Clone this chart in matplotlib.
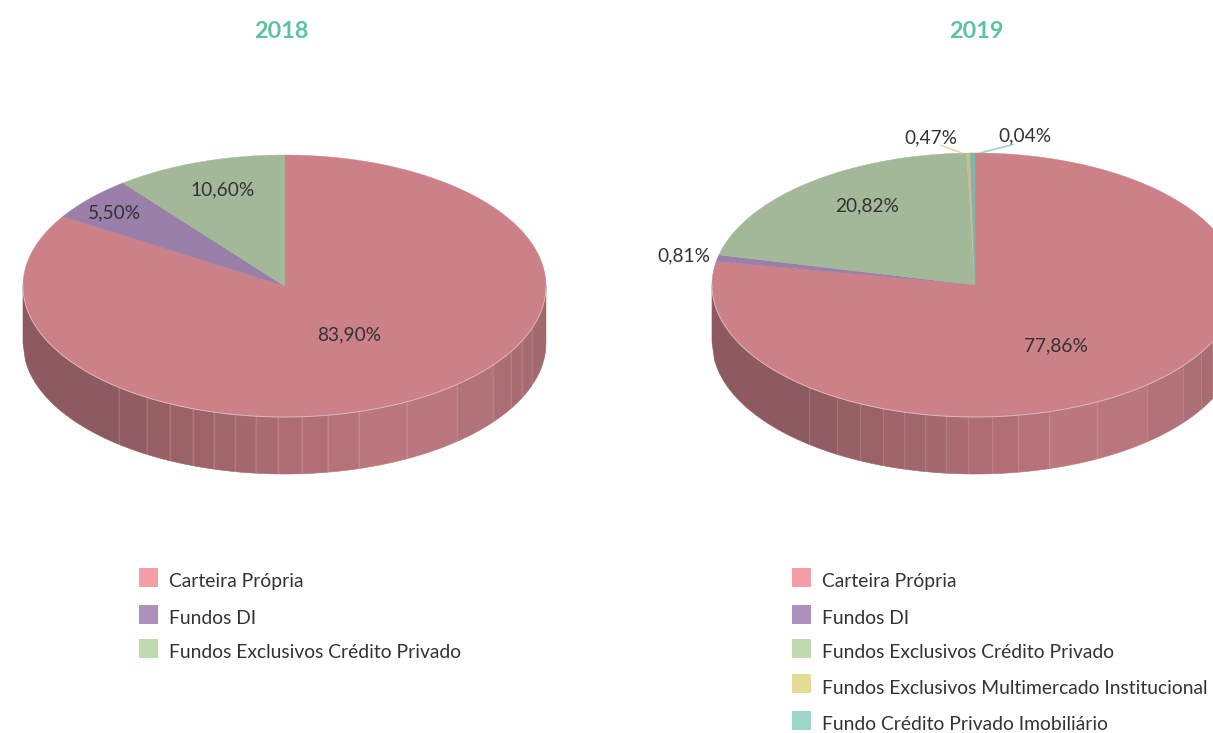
import numpy as np
import matplotlib
matplotlib.use("Agg")
import matplotlib.pyplot as plt
from matplotlib.patches import Rectangle
from matplotlib.colors import to_rgb

plt.rcParams['font.family'] = ['Lato', 'DejaVu Sans']

# ---- data ----
years = ["2018", "2019"]
names = ["Carteira Própria", "Fundos DI", "Fundos Exclusivos Crédito Privado",
         "Fundos Exclusivos Multimercado Institucional", "Fundo Crédito Privado Imobiliário"]
values_2018 = [83.90, 5.50, 10.60]
values_2019 = [77.86, 0.81, 20.82, 0.47, 0.04]

# ---- style ----
W, H = 1213, 733
top_cols = ["#cc8188", "#9a80a8", "#a3b898", "#c6bc8c", "#7fb3ae"]
leg_cols = ["#f49ea6", "#ae90bc", "#c0dab0", "#e5dc98", "#9fd6cc"]
title_col = "#5cc2a4"
text_col = "#333333"
facet_dx = [-166, -138, -115, -92, -71, -50, -29, -7, 17, 43, 74, 122, 172, 208, 226, 237, 247]
shade_x = [-1.0, -0.63, 0.0, 0.45, 0.70, 1.0]
shade_c = ["#8b595e", "#8f5c61", "#ac6c72", "#bf787f", "#b4737a", "#a0686d"]
min_sweep = 1.0  # degrees: very thin slices are drawn at least this wide

fig = plt.figure(figsize=(W / 100, H / 100), dpi=100)
ax = fig.add_axes([0, 0, 1, 1])
ax.set_xlim(0, W)
ax.set_ylim(H, 0)
ax.axis("off")


def shade(u):
    rgb = np.array([to_rgb(c) for c in shade_c])
    return tuple(np.interp(u, shade_x, rgb[:, i]) for i in range(3))


def draw_pie(values, cx, cy, rx, ry, depth):
    # side wall (front half only), split in facets
    edges = [-rx] + facet_dx + [rx]
    for a, b in zip(edges[:-1], edges[1:]):
        xs = np.linspace(a, b, 40)
        yb = ry * np.sqrt(np.clip(1 - (xs / rx) ** 2, 0, 1))
        ax.fill(np.r_[cx + xs, (cx + xs)[::-1]], np.r_[cy + yb, (cy + yb + depth)[::-1]],
                color=shade((a + b) / 2 / rx), lw=0.4, zorder=1)
    for dx in facet_dx:
        yb = ry * np.sqrt(1 - (dx / rx) ** 2)
        ax.plot([cx + dx] * 2, [cy + yb, cy + yb + depth], color="white", alpha=0.13, lw=0.9, zorder=2)
    # top face
    start = 0.0
    for i, v in enumerate(values):
        end = start + v * 3.6
        th = np.radians(np.linspace(min(start, end - min_sweep), end, 240))
        x = np.r_[cx, cx + rx * np.sin(th)]
        y = np.r_[cy, cy - ry * np.cos(th)]
        ax.fill(x, y, facecolor=top_cols[i], edgecolor=top_cols[i], lw=0.3, zorder=3 + i * 0.1)
        start = end
    # pale rim at the front edge
    th = np.radians(np.linspace(90, 270, 200))
    ax.plot(cx + rx * np.sin(th), cy - ry * np.cos(th), color="#dcb6ba", lw=0.7, zorder=5)


draw_pie(values_2018, 284.5, 286, 261.5, 131, 57)
draw_pie(values_2019, 975, 285, 263, 132, 57)


def pct(v):
    return f"{v:.2f}".replace(".", ",") + "%"


label_pos_2018 = [(349, 335), (114, 213), (223, 190)]
label_pos_2019 = [(1056, 346), (684, 256), (867, 206), (931, 138), (1025, 136)]
for vals, pos in ((values_2018, label_pos_2018), (values_2019, label_pos_2019)):
    for v, (x, y) in zip(vals, pos):
        ax.text(x, y, pct(v), ha="center", va="center", fontsize=13.8, color=text_col, zorder=7)

# leader lines of the thin slices
ax.plot([941, 962], [145.5, 153], color="#e3d9a0", lw=1.1, zorder=6)
ax.plot([1013, 980], [144.5, 153], color="#92d0c6", lw=1.1, zorder=6)

for yr, x in zip(years, (281, 976)):
    ax.text(x, 31, yr, ha="center", va="center", fontsize=16.8, fontweight="bold", color=title_col)

# legends
legend_rows = [578, 615, 649, 684, 721]
for x0, n in ((139, 3), (792, 5)):
    for i in range(n):
        y = legend_rows[i]
        ax.add_patch(Rectangle((x0, y - 10), 19, 19, facecolor=leg_cols[i], edgecolor="none"))
        ax.text(x0 + 30, y + 4, names[i], ha="left", va="center", fontsize=13.85, color=text_col, clip_on=True)

fig.savefig("out.png", dpi=100)
